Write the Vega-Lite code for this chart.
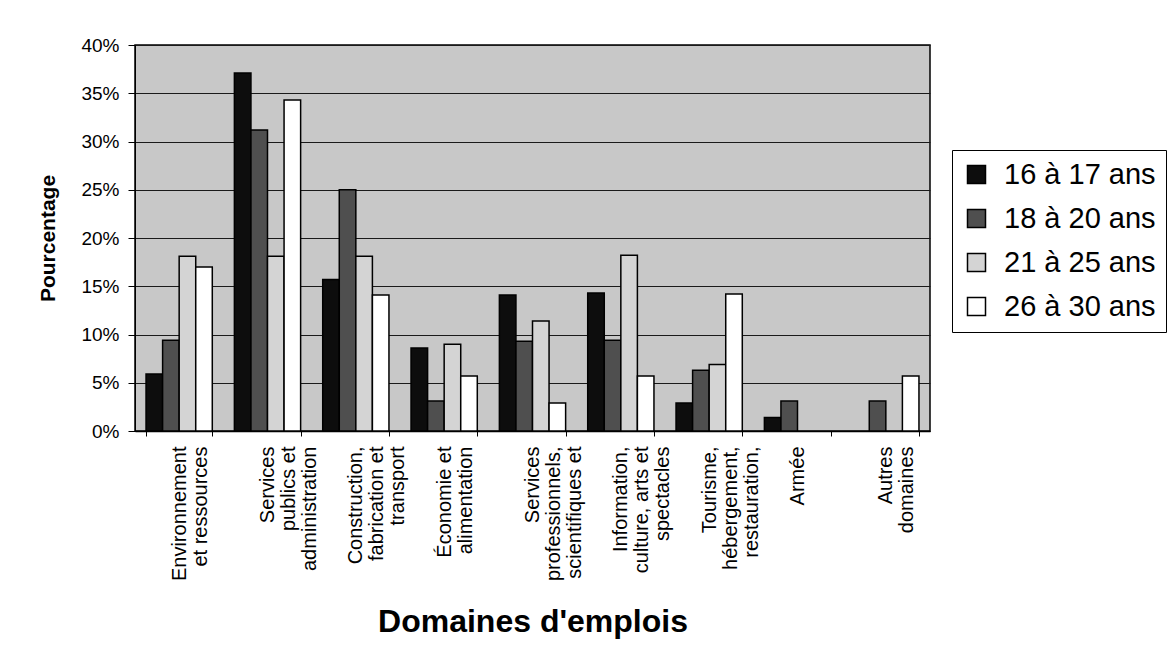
{
  "$schema": "https://vega.github.io/schema/vega-lite/v6.json",
  "width": 795,
  "height": 386,
  "autosize": {"type": "none"},
  "padding": {"left": 135, "top": 45, "right": 246, "bottom": 233},
  "background": "white",
  "config": {
    "font": "Liberation Sans",
    "view": {"fill": "#c8c8c8", "stroke": "#000", "strokeWidth": 1.5}
  },
  "data": {
    "values": [
      {"domaine": "Environnement|et ressources", "age": "16 à 17 ans", "pourcentage": 0.059},
      {"domaine": "Environnement|et ressources", "age": "18 à 20 ans", "pourcentage": 0.094},
      {"domaine": "Environnement|et ressources", "age": "21 à 25 ans", "pourcentage": 0.181},
      {"domaine": "Environnement|et ressources", "age": "26 à 30 ans", "pourcentage": 0.170},
      {"domaine": "Services|publics et|administration", "age": "16 à 17 ans", "pourcentage": 0.371},
      {"domaine": "Services|publics et|administration", "age": "18 à 20 ans", "pourcentage": 0.312},
      {"domaine": "Services|publics et|administration", "age": "21 à 25 ans", "pourcentage": 0.181},
      {"domaine": "Services|publics et|administration", "age": "26 à 30 ans", "pourcentage": 0.343},
      {"domaine": "Construction,|fabrication et|transport", "age": "16 à 17 ans", "pourcentage": 0.157},
      {"domaine": "Construction,|fabrication et|transport", "age": "18 à 20 ans", "pourcentage": 0.250},
      {"domaine": "Construction,|fabrication et|transport", "age": "21 à 25 ans", "pourcentage": 0.181},
      {"domaine": "Construction,|fabrication et|transport", "age": "26 à 30 ans", "pourcentage": 0.141},
      {"domaine": "Économie et|alimentation", "age": "16 à 17 ans", "pourcentage": 0.086},
      {"domaine": "Économie et|alimentation", "age": "18 à 20 ans", "pourcentage": 0.031},
      {"domaine": "Économie et|alimentation", "age": "21 à 25 ans", "pourcentage": 0.090},
      {"domaine": "Économie et|alimentation", "age": "26 à 30 ans", "pourcentage": 0.057},
      {"domaine": "Services|professionnels,|scientifiques et", "age": "16 à 17 ans", "pourcentage": 0.141},
      {"domaine": "Services|professionnels,|scientifiques et", "age": "18 à 20 ans", "pourcentage": 0.093},
      {"domaine": "Services|professionnels,|scientifiques et", "age": "21 à 25 ans", "pourcentage": 0.114},
      {"domaine": "Services|professionnels,|scientifiques et", "age": "26 à 30 ans", "pourcentage": 0.029},
      {"domaine": "Information,|culture, arts et|spectacles", "age": "16 à 17 ans", "pourcentage": 0.143},
      {"domaine": "Information,|culture, arts et|spectacles", "age": "18 à 20 ans", "pourcentage": 0.094},
      {"domaine": "Information,|culture, arts et|spectacles", "age": "21 à 25 ans", "pourcentage": 0.182},
      {"domaine": "Information,|culture, arts et|spectacles", "age": "26 à 30 ans", "pourcentage": 0.057},
      {"domaine": "Tourisme,|hébergement,|restauration,", "age": "16 à 17 ans", "pourcentage": 0.029},
      {"domaine": "Tourisme,|hébergement,|restauration,", "age": "18 à 20 ans", "pourcentage": 0.063},
      {"domaine": "Tourisme,|hébergement,|restauration,", "age": "21 à 25 ans", "pourcentage": 0.069},
      {"domaine": "Tourisme,|hébergement,|restauration,", "age": "26 à 30 ans", "pourcentage": 0.142},
      {"domaine": "Armée", "age": "16 à 17 ans", "pourcentage": 0.014},
      {"domaine": "Armée", "age": "18 à 20 ans", "pourcentage": 0.031},
      {"domaine": "Autres|domaines", "age": "18 à 20 ans", "pourcentage": 0.031},
      {"domaine": "Autres|domaines", "age": "26 à 30 ans", "pourcentage": 0.057}
    ]
  },
  "mark": {"type": "bar", "stroke": "#000", "strokeWidth": 1.5},
  "encoding": {
    "x": {
      "field": "domaine",
      "type": "nominal",
      "sort": null,
      "scale": {"paddingInner": 0.25, "paddingOuter": 0.125},
      "axis": {
        "title": "Domaines d'emplois",
        "titleFontSize": 32,
        "titleFontWeight": "bold",
        "titleColor": "#000",
        "titleY": 200,
        "titleBaseline": "alphabetic",
        "labelAngle": -90,
        "labelAlign": "right",
        "labelBaseline": "middle",
        "labelFontSize": 20,
        "labelLineHeight": 21,
        "labelColor": "#000",
        "labelPadding": 10,
        "labelLimit": 300,
        "labelExpr": "split(datum.label, '|')",
        "tickBand": "extent",
        "tickSize": 5,
        "tickColor": "#000",
        "domainColor": "#000",
        "domainWidth": 1.5
      }
    },
    "xOffset": {
      "field": "age",
      "type": "nominal",
      "sort": ["16 à 17 ans", "18 à 20 ans", "21 à 25 ans", "26 à 30 ans"]
    },
    "y": {
      "field": "pourcentage",
      "type": "quantitative",
      "scale": {"domain": [0, 0.4]},
      "axis": {
        "title": "Pourcentage",
        "titleFontSize": 21,
        "titleFontWeight": "bold",
        "titleColor": "#000",
        "titleX": -77,
        "values": [0, 0.05, 0.1, 0.15, 0.2, 0.25, 0.3, 0.35, 0.4],
        "format": ".0%",
        "labelFontSize": 19,
        "labelColor": "#000",
        "labelPadding": 9,
        "tickSize": 7,
        "tickColor": "#000",
        "domainColor": "#000",
        "gridColor": "#1a1a1a",
        "gridWidth": 1,
        "gridOpacity": 1
      }
    },
    "color": {
      "field": "age",
      "type": "nominal",
      "scale": {
        "domain": ["16 à 17 ans", "18 à 20 ans", "21 à 25 ans", "26 à 30 ans"],
        "range": ["#0d0d0d", "#4f4f4f", "#d4d4d4", "#ffffff"]
      },
      "legend": {
        "title": null,
        "orient": "none",
        "legendX": 817,
        "legendY": 105,
        "padding": 10,
        "strokeColor": "#000",
        "fillColor": "#ffffff",
        "labelFontSize": 29,
        "labelColor": "#000",
        "labelLimit": 300,
        "labelOffset": 13,
        "rowPadding": 14,
        "symbolType": "square",
        "symbolSize": 324,
        "symbolStrokeColor": "#000",
        "symbolStrokeWidth": 1.5,
        "symbolOpacity": 1
      }
    }
  }
}
